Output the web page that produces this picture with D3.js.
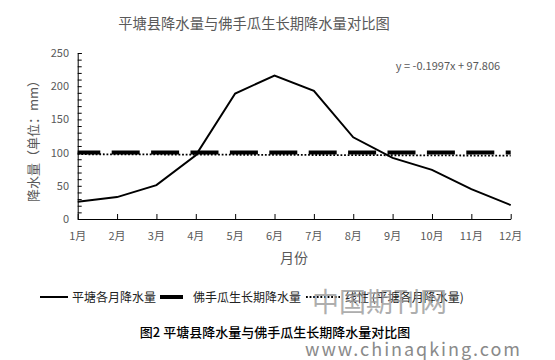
<!DOCTYPE html>
<html><head><meta charset="utf-8">
<script src="https://cdn.jsdelivr.net/npm/d3@7"></script>
<style>body{margin:0;background:#fff}svg{display:block}text{font-family:"Noto Sans CJK SC","Microsoft YaHei",sans-serif}</style>
</head><body><svg id="c" width="555" height="360"></svg>
<script>
const months = ["1月","2月","3月","4月","5月","6月","7月","8月","9月","10月","11月","12月"];
const rainfall = [26, 33, 51, 96, 189, 216, 193, 123, 92, 74, 45, 21];
const growthRain = [100,100,100,100,100,100,100,100,100,100,100,100];
const trendSlope = -0.1997, trendIntercept = 97.806;
const yTicks = [0, 50, 100, 150, 200, 250];

const svg = d3.select("#c");
const x = d3.scalePoint().domain(months).range([77.7, 510.7]);
const y = d3.scaleLinear().domain([0, 250]).range([219, 53]);
const grey = "#595959";

svg.append("text").attr("x", 254).attr("y", 29).attr("text-anchor", "middle")
  .attr("font-size", 14.3).attr("fill", grey).text("平塘县降水量与佛手瓜生长期降水量对比图");

// y axis
const ya = svg.append("g").attr("transform", `translate(${x(months[0])},0)`)
  .call(d3.axisLeft(y).tickValues(d3.range(0, 251, 10)).tickSize(-4).tickFormat(""));
ya.select(".domain").attr("stroke", "#000");
ya.selectAll(".tick line").attr("stroke", "#000");
svg.append("g").selectAll("text").data(yTicks).join("text")
  .attr("x", 69).attr("y", d => y(d) + 4).attr("text-anchor", "end")
  .attr("font-size", 11).attr("fill", grey).text(d => d);

// x axis
const xa = svg.append("g").attr("transform", `translate(0,${y(0)})`)
  .call(d3.axisBottom(x).tickSize(-5).tickSizeOuter(0).tickFormat(""));
xa.select(".domain").attr("stroke", "#000");
xa.selectAll(".tick line").attr("stroke", "#000");
svg.append("g").selectAll("text").data(months).join("text")
  .attr("x", d => x(d)).attr("y", 240).attr("text-anchor", "middle")
  .attr("font-size", 11).attr("fill", grey).text(d => d);

svg.append("text").attr("x", 294).attr("y", 263).attr("text-anchor", "middle")
  .attr("font-size", 14).attr("fill", grey).text("月份");
svg.append("text").attr("transform", "translate(38,138) rotate(-90)").attr("text-anchor", "middle")
  .attr("font-size", 13).attr("fill", grey).text("降水量（单位：mm）");

// growth-period line
svg.append("path").datum(growthRain)
  .attr("d", d3.line().x((d, i) => x(months[i])).y(d => y(d)))
  .attr("fill", "none").attr("stroke", "#000").attr("stroke-width", 4)
  .attr("stroke-dasharray", "28,11.4").attr("stroke-dashoffset", 5.4);

// trend line
const tr = months.map((m, i) => trendSlope * (i + 1) + trendIntercept);
svg.append("path").datum(tr)
  .attr("d", d3.line().x((d, i) => x(months[i])).y(d => y(d)))
  .attr("fill", "none").attr("stroke", "#000").attr("stroke-width", 1.8)
  .attr("stroke-dasharray", "1.8,1.8");

// rainfall
svg.append("path").datum(rainfall)
  .attr("d", d3.line().x((d, i) => x(months[i])).y(d => y(d)))
  .attr("fill", "none").attr("stroke", "#000").attr("stroke-width", 2);

svg.append("text").attr("x", 448).attr("y", 70).attr("text-anchor", "middle")
  .attr("font-size", 11).attr("fill", grey).text("y = -0.1997x + 97.806");

// legend
const lg = svg.append("g");
lg.append("line").attr("x1", 40).attr("x2", 68).attr("y1", 297).attr("y2", 297).attr("stroke", "#000").attr("stroke-width", 2);
lg.append("text").attr("x", 72).attr("y", 301.5).attr("font-size", 12).attr("fill", "#222").text("平塘各月降水量");
lg.append("line").attr("x1", 160).attr("x2", 183).attr("y1", 297).attr("y2", 297).attr("stroke", "#000").attr("stroke-width", 4);
lg.append("text").attr("x", 193).attr("y", 301.5).attr("font-size", 12).attr("fill", "#222").text("佛手瓜生长期降水量");
lg.append("line").attr("x1", 306).attr("x2", 340).attr("y1", 297).attr("y2", 297).attr("stroke", "#000").attr("stroke-width", 1.8).attr("stroke-dasharray", "1.8,1.8");
lg.append("text").attr("x", 345).attr("y", 301.5).attr("font-size", 12).attr("fill", "#222").text("线性 (平塘各月降水量)");

// watermark
svg.append("text").attr("x", 312).attr("y", 312).attr("font-size", 27).attr("fill", "#9a9a9a").attr("opacity", 0.8)
  .attr("font-family", "'Noto Serif CJK SC','Noto Sans CJK SC',serif").text("中国期刊网");

svg.append("text").attr("x", 275).attr("y", 337).attr("text-anchor", "middle")
  .attr("font-size", 13).attr("fill", "#000").attr("font-weight", 500).text("图2  平塘县降水量与佛手瓜生长期降水量对比图");

svg.append("text").attr("x", 305).attr("y", 355.5).attr("font-size", 18).attr("fill", "#8a8a8a")
  .attr("font-family", "'DejaVu Sans Mono',monospace").attr("textLength", 215).text("www.chinaqking.com");
</script></body></html>
